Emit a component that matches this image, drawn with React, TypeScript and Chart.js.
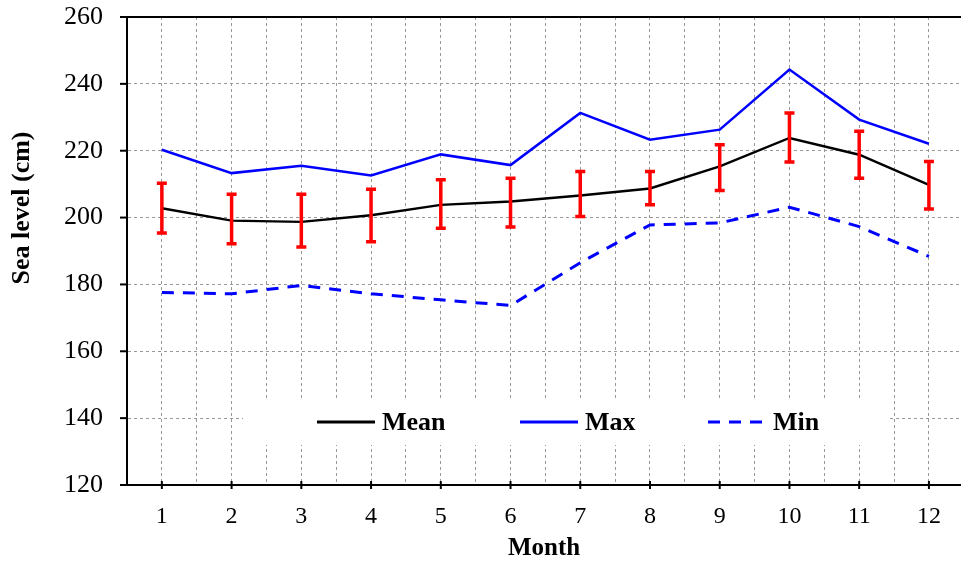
import React, { useEffect, useRef } from "react";
import { Chart, registerables } from "chart.js";

Chart.register(...registerables);

const months = [1, 2, 3, 4, 5, 6, 7, 8, 9, 10, 11, 12];
const meanLevel = [202.8, 199.1, 198.7, 200.7, 203.8, 204.8, 206.6, 208.7, 215.3, 223.8, 218.8, 209.8];
const errHigh = [210.3, 207.0, 207.0, 208.5, 211.3, 211.8, 213.8, 213.8, 221.8, 231.3, 225.8, 216.8];
const errLow = [195.4, 192.2, 191.2, 192.8, 196.8, 197.2, 200.3, 203.8, 208.1, 216.6, 211.8, 202.6];
const maxLevel = [220.3, 213.3, 215.5, 212.6, 218.9, 215.7, 231.3, 223.3, 226.3, 244.3, 229.3, 222.1];
const minLevel = [177.6, 177.2, 179.7, 177.2, 175.4, 173.7, 186.5, 197.8, 198.4, 203.1, 197.3, 188.4];
const legendLabels = ["Mean", "Max", "Min"];
const yTitle = "Sea level (cm)";

const FONT = '"Liberation Serif", "Times New Roman", serif';

const decorPlugin = {
  id: "decor",
  beforeDatasetsDraw(chart: any) {
    const { ctx } = chart;
    ctx.save();
    ctx.fillStyle = "#ffffff";
    ctx.fillRect(243, 401, 644, 44);
    ctx.restore();
  },
  afterDatasetsDraw(chart: any) {
    const { ctx } = chart;
    const xs = chart.scales.x;
    const ys = chart.scales.y;
    ctx.save();
    ctx.strokeStyle = "#ff0000";
    ctx.lineWidth = 3.5;
    months.forEach((m, i) => {
      const px = xs.getPixelForValue(m);
      const top = ys.getPixelForValue(errHigh[i]);
      const bot = ys.getPixelForValue(errLow[i]);
      ctx.beginPath();
      ctx.moveTo(px, top);
      ctx.lineTo(px, bot);
      ctx.moveTo(px - 5, top);
      ctx.lineTo(px + 5, top);
      ctx.moveTo(px - 5, bot);
      ctx.lineTo(px + 5, bot);
      ctx.stroke();
    });
    ctx.restore();
  },
  afterDraw(chart: any) {
    const { ctx, chartArea } = chart;
    const xs = chart.scales.x;
    const ys = chart.scales.y;
    ctx.save();
    ctx.strokeStyle = "#000000";
    ctx.lineWidth = 2;
    ctx.beginPath();
    ctx.moveTo(chartArea.left - 1, chartArea.top);
    ctx.lineTo(chartArea.right, chartArea.top);
    ctx.stroke();
    ys.ticks.forEach((t: any) => {
      const py = ys.getPixelForValue(t.value);
      ctx.beginPath();
      ctx.moveTo(chartArea.left - 7, py);
      ctx.lineTo(chartArea.left, py);
      ctx.stroke();
    });
    months.forEach((m) => {
      const px = xs.getPixelForValue(m);
      ctx.beginPath();
      ctx.moveTo(px, chartArea.bottom - 4);
      ctx.lineTo(px, chartArea.bottom + 4);
      ctx.stroke();
    });
    const items = [
      { x: 317, color: "#000000", dash: [] as number[], width: 3 },
      { x: 520, color: "#0000ff", dash: [] as number[], width: 3 },
      { x: 708, color: "#0000ff", dash: [12, 9], width: 3 },
    ];
    ctx.font = `bold 26px ${FONT}`;
    ctx.textBaseline = "middle";
    ctx.textAlign = "left";
    items.forEach((it, i) => {
      ctx.strokeStyle = it.color;
      ctx.lineWidth = it.width;
      ctx.setLineDash(it.dash);
      ctx.beginPath();
      ctx.moveTo(it.x, 422);
      ctx.lineTo(it.x + 58, 422);
      ctx.stroke();
      ctx.setLineDash([]);
      ctx.fillStyle = "#000000";
      ctx.fillText(legendLabels[i], it.x + 65, 423);
    });
    // y axis title
    ctx.translate(22, 208);
    ctx.rotate(-Math.PI / 2);
    ctx.textAlign = "center";
    ctx.textBaseline = "middle";
    ctx.font = `bold 26px ${FONT}`;
    ctx.fillStyle = "#000000";
    ctx.fillText(yTitle, 0, 0);
    ctx.restore();
  },
};

export default function App() {
  const ref = useRef<HTMLCanvasElement | null>(null);
  useEffect(() => {
    document.body.style.margin = "0";
    const canvas = ref.current!;
    const toXY = (arr: number[]) => months.map((m, i) => ({ x: m, y: arr[i] }));
    const chart = new Chart(canvas, {
      type: "line",
      data: {
        datasets: [
          {
            label: "Max",
            data: toXY(maxLevel),
            borderColor: "#0000ff",
            borderWidth: 2.5,
            pointRadius: 0,
            tension: 0,
          },
          {
            label: "Mean",
            data: toXY(meanLevel),
            borderColor: "#000000",
            borderWidth: 2.4,
            pointRadius: 0,
            tension: 0,
          },
          {
            label: "Min",
            data: toXY(minLevel),
            borderColor: "#0000ff",
            borderWidth: 3,
            borderDash: [12, 9],
            pointRadius: 0,
            tension: 0,
          },
        ],
      },
      options: {
        responsive: false,
        animation: false,
        devicePixelRatio: 1,
        layout: { padding: { top: 17, left: 0, right: 0, bottom: 0 } },
        plugins: { legend: { display: false }, tooltip: { enabled: false } },
        scales: {
          x: {
            type: "linear",
            min: 0.5,
            max: 12.46,
            afterFit: (s: any) => {
              s.height = 78;
              s.paddingLeft = 0;
              s.paddingRight = 0;
            },
            ticks: {
              stepSize: 0.5,
              includeBounds: false,
              autoSkip: false,
              maxRotation: 0,
              padding: 17,
              color: "#000000",
              font: { family: FONT, size: 24 },
              callback: (v: any) => (Number.isInteger(v) ? String(v) : ""),
            },
            grid: {
              color: "#999999",
              lineWidth: 1,
              drawTicks: false,
            },
            border: { display: true, color: "#000000", width: 2, dash: [3, 3] as any },
            title: {
              display: true,
              text: "Month",
              color: "#000000",
              font: { family: FONT, size: 25, weight: "bold" },
              padding: { top: 0, bottom: -1 },
            },
          },
          y: {
            min: 120,
            max: 260,
            afterFit: (s: any) => {
              s.width = 127;
              s.paddingTop = 0;
              s.paddingBottom = 0;
            },
            ticks: {
              stepSize: 20,
              padding: 24,
              color: "#000000",
              font: { family: FONT, size: 26 },
            },
            grid: {
              color: "#999999",
              lineWidth: 1,
              drawTicks: false,
            },
            border: { display: true, color: "#000000", width: 2, dash: [3, 3] as any },
          },
        },
      },
      plugins: [decorPlugin],
    } as any);
    return () => chart.destroy();
  }, []);
  return (
    <div style={{ width: 961, height: 563 }}>
      <canvas ref={ref} width={961} height={563} />
    </div>
  );
}
